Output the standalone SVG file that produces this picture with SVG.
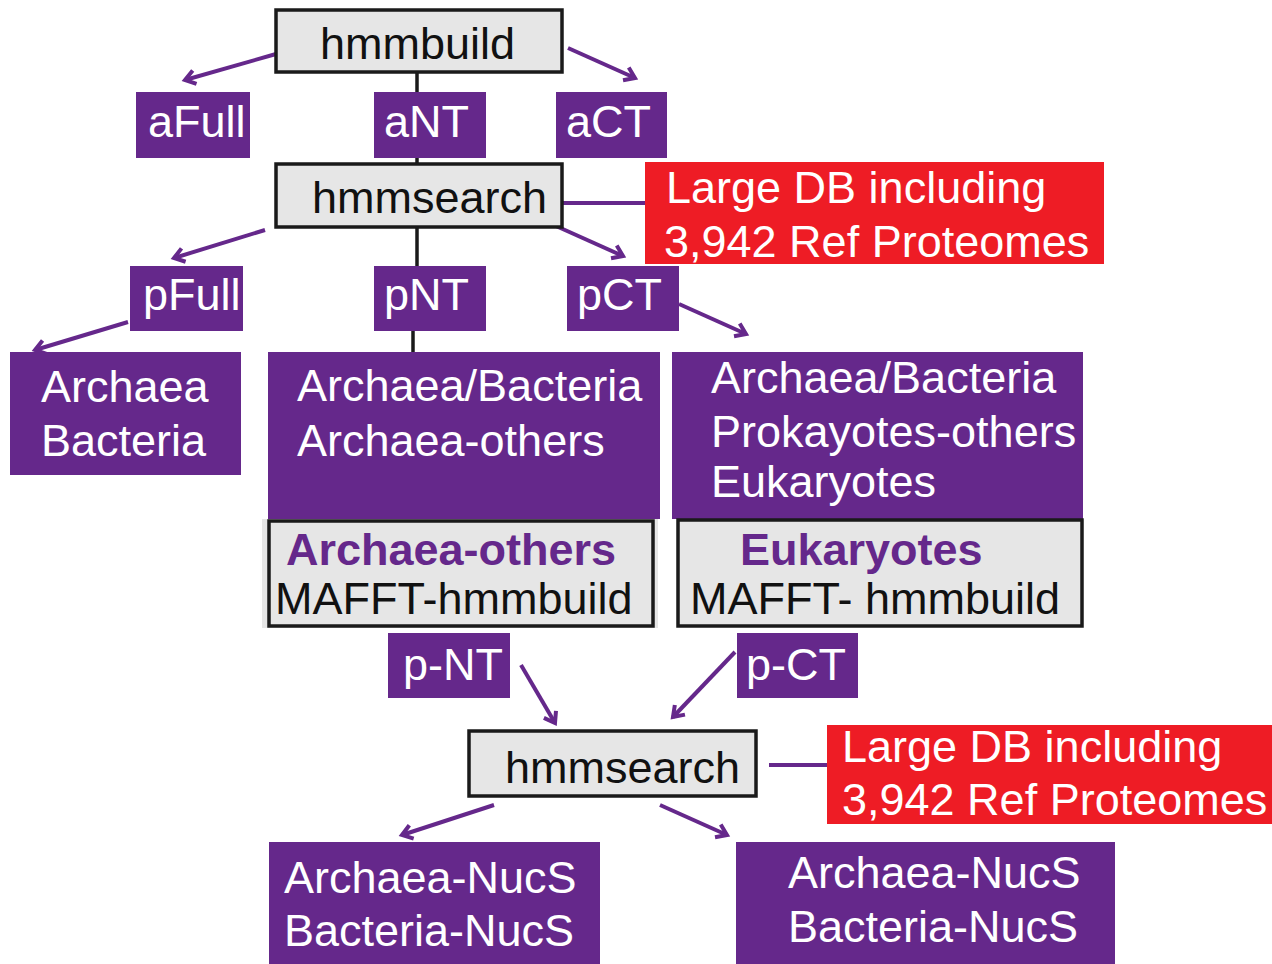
<svg xmlns="http://www.w3.org/2000/svg" width="1272" height="964" viewBox="0 0 1272 964">
<style>
.p{fill:#65288b}
.r{fill:#ee1c25}
.g{fill:#e6e6e6;stroke:#1a1a1a;stroke-width:3.5}
.t{font-family:"Liberation Sans",Arial,sans-serif;font-size:45px}
.w{fill:#ffffff}
.k{fill:#111111}
.b{font-weight:bold;fill:#65288b}
.ln{stroke:#65288b;stroke-width:4;fill:none}
.bl{stroke:#1a1a1a;stroke-width:3.5;fill:none}
</style>
<defs>
<marker id="arr" viewBox="0 0 20 20" refX="14" refY="10" markerWidth="20" markerHeight="20" markerUnits="userSpaceOnUse" orient="auto">
<path d="M4,3 L14,10 L4,17" fill="none" stroke="#65288b" stroke-width="4"/>
</marker>
</defs>
<rect width="1272" height="964" fill="#ffffff"/>
<g id="connectors">
<line class="bl" x1="417" y1="72" x2="417" y2="92"/>
<line class="bl" x1="417" y1="158" x2="417" y2="164"/>
<line class="bl" x1="417" y1="227" x2="417" y2="266"/>
<line class="bl" x1="413" y1="331" x2="413" y2="352"/>
<line class="ln" x1="276" y1="54" x2="185" y2="80" marker-end="url(#arr)"/>
<line class="ln" x1="568" y1="48" x2="635" y2="78" marker-end="url(#arr)"/>
<line class="ln" x1="562" y1="203" x2="645" y2="203"/>
<line class="ln" x1="265" y1="230" x2="174" y2="258" marker-end="url(#arr)"/>
<line class="ln" x1="556" y1="226" x2="623" y2="256" marker-end="url(#arr)"/>
<line class="ln" x1="128" y1="322" x2="35" y2="350" marker-end="url(#arr)"/>
<line class="ln" x1="679" y1="304" x2="746" y2="334" marker-end="url(#arr)"/>
<line class="ln" x1="521" y1="665" x2="555" y2="723" marker-end="url(#arr)"/>
<line class="ln" x1="735" y1="652" x2="673" y2="717" marker-end="url(#arr)"/>
<line class="ln" x1="769" y1="765" x2="828" y2="765"/>
<line class="ln" x1="494" y1="805" x2="402" y2="835" marker-end="url(#arr)"/>
<line class="ln" x1="660" y1="805" x2="727" y2="835" marker-end="url(#arr)"/>
</g>
<g id="hmmbuild">
<rect class="g" x="276" y="10" width="286" height="62"/>
<text class="t k" x="320" y="59">hmmbuild</text>
</g>
<g id="aFull"><rect class="p" x="136" y="92" width="114" height="66"/><text class="t w" x="148" y="137">aFull</text></g>
<g id="aNT"><rect class="p" x="374" y="92" width="112" height="66"/><text class="t w" x="384" y="137">aNT</text></g>
<g id="aCT"><rect class="p" x="556" y="92" width="111" height="66"/><text class="t w" x="566" y="137">aCT</text></g>
<g id="hmmsearch1">
<rect class="g" x="276" y="164" width="286" height="63"/>
<text class="t k" x="312" y="213">hmmsearch</text>
</g>
<g id="db1">
<rect class="r" x="645" y="162" width="459" height="102"/>
<text class="t w" x="666" y="203">Large DB including</text>
<text class="t w" x="664" y="257">3,942 Ref Proteomes</text>
</g>
<g id="pFull"><rect class="p" x="130" y="266" width="113" height="65"/><text class="t w" x="143" y="310">pFull</text></g>
<g id="pNT"><rect class="p" x="374" y="266" width="112" height="65"/><text class="t w" x="384" y="310">pNT</text></g>
<g id="pCT"><rect class="p" x="567" y="266" width="112" height="65"/><text class="t w" x="577" y="310">pCT</text></g>
<g id="archaeaBacteria">
<rect class="p" x="10" y="352" width="231" height="123"/>
<text class="t w" x="41" y="402">Archaea</text>
<text class="t w" x="41" y="456">Bacteria</text>
</g>
<g id="midBox">
<rect class="p" x="268" y="352" width="392" height="167"/>
<text class="t w" x="297" y="401">Archaea/Bacteria</text>
<text class="t w" x="297" y="456">Archaea-others</text>
</g>
<g id="rightBox">
<rect class="p" x="672" y="352" width="411" height="167"/>
<text class="t w" x="711" y="393">Archaea/Bacteria</text>
<text class="t w" x="711" y="447">Prokayotes-others</text>
<text class="t w" x="711" y="497">Eukaryotes</text>
</g>
<g id="mafftNT">
<rect x="262" y="519" width="396" height="109" fill="#e6e6e6"/>
<rect class="g" x="269" y="521" width="384" height="105"/>
<text class="t b" x="286" y="565">Archaea-others</text>
<text class="t k" x="275" y="614">MAFFT-hmmbuild</text>
</g>
<g id="mafftCT">
<rect class="g" x="678" y="520" width="404" height="106"/>
<text class="t b" x="740" y="565">Eukaryotes</text>
<text class="t k" x="690" y="614">MAFFT- hmmbuild</text>
</g>
<g id="p-NT"><rect class="p" x="388" y="633" width="122" height="65"/><text class="t w" x="403" y="680">p-NT</text></g>
<g id="p-CT"><rect class="p" x="737" y="633" width="121" height="65"/><text class="t w" x="746" y="680">p-CT</text></g>
<g id="hmmsearch2">
<rect class="g" x="469" y="731" width="287" height="65"/>
<text class="t k" x="505" y="783">hmmsearch</text>
</g>
<g id="db2">
<rect class="r" x="827" y="725" width="445" height="99"/>
<text class="t w" x="842" y="762">Large DB including</text>
<text class="t w" x="842" y="815">3,942 Ref Proteomes</text>
</g>
<g id="nucsLeft">
<rect class="p" x="269" y="842" width="331" height="122"/>
<text class="t w" x="284" y="893">Archaea-NucS</text>
<text class="t w" x="284" y="946">Bacteria-NucS</text>
</g>
<g id="nucsRight">
<rect class="p" x="736" y="842" width="379" height="122"/>
<text class="t w" x="788" y="888">Archaea-NucS</text>
<text class="t w" x="788" y="942">Bacteria-NucS</text>
</g>
</svg>
